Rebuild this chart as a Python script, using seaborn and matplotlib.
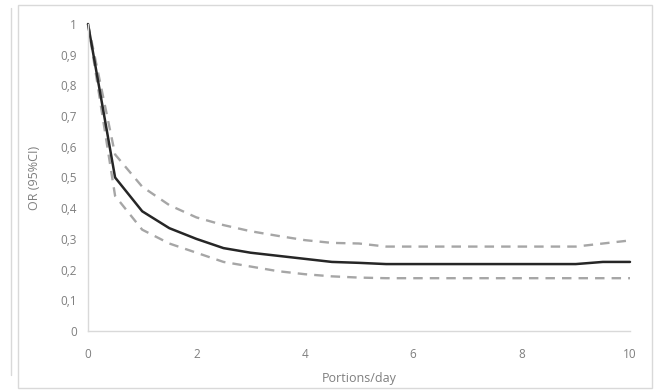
import numpy as np
import pandas as pd
import seaborn as sns
import matplotlib.pyplot as plt
from matplotlib.patches import Rectangle
from matplotlib.lines import Line2D

# data
portions = [0, 0.5, 1, 1.5, 2, 2.5, 3, 3.5, 4, 4.5, 5, 5.5, 6, 6.5, 7, 7.5, 8, 8.5, 9, 9.5, 10]
or_est = [1.0, 0.50, 0.39, 0.335, 0.30, 0.27, 0.255, 0.245, 0.235, 0.225, 0.222, 0.218, 0.218, 0.218,
          0.218, 0.218, 0.218, 0.218, 0.218, 0.225, 0.225]
ci_upper = [1.0, 0.575, 0.47, 0.41, 0.37, 0.345, 0.325, 0.31, 0.296, 0.287, 0.285, 0.275, 0.275, 0.275,
            0.275, 0.275, 0.275, 0.275, 0.275, 0.285, 0.295]
ci_lower = [1.0, 0.44, 0.33, 0.285, 0.255, 0.225, 0.21, 0.195, 0.185, 0.178, 0.174, 0.172, 0.172, 0.172,
            0.172, 0.172, 0.172, 0.172, 0.172, 0.172, 0.172]
y_ticks = [0, 0.1, 0.2, 0.3, 0.4, 0.5, 0.6, 0.7, 0.8, 0.9, 1.0]
y_labels = ["0", "0,1", "0,2", "0,3", "0,4", "0,5", "0,6", "0,7", "0,8", "0,9", "1"]
x_ticks = [0, 2, 4, 6, 8, 10]

df = pd.DataFrame({"Portions/day": portions, "OR": or_est, "upper": ci_upper, "lower": ci_lower})

sns.set_style("white")
plt.rcParams['font.family'] = ['Open Sans', 'DejaVu Sans']

fig = plt.figure(figsize=(6.58, 3.91), dpi=100)
ax = fig.add_axes([88 / 658, 1 - 331 / 391, 542 / 658, 307 / 391])

grey = "#a6a6a6"
for col in ["upper", "lower"]:
    sns.lineplot(data=df, x="Portions/day", y=col, ax=ax, color=grey, lw=1.7,
                 dashes=False, clip_on=False).lines[-1].set_dashes([4, 3])
sns.lineplot(data=df, x="Portions/day", y="OR", ax=ax, color="#262626", lw=1.8, clip_on=False)

ax.set_xlim(0, 10)
ax.set_ylim(0, 1)
ax.set_xticks(x_ticks)
ax.set_xticklabels([str(t) for t in x_ticks])
ax.set_yticks(y_ticks)
ax.set_yticklabels(y_labels)
ax.tick_params(colors="#7f7f7f", labelsize=8.5, length=0)
ax.tick_params(axis="x", pad=12)
ax.tick_params(axis="y", pad=8)
for s in ["top", "right"]:
    ax.spines[s].set_visible(False)
for s in ["left", "bottom"]:
    ax.spines[s].set_color("#d9d9d9")
    ax.spines[s].set_linewidth(1)

ax.set_xlabel("Portions/day", color="#7f7f7f", fontsize=9, labelpad=8)
ax.set_ylabel("OR (95%CI)", color="#7f7f7f", fontsize=9, labelpad=14)

# chart frame and neighbouring border
fig.add_artist(Rectangle((18 / 658, 3 / 391), 634 / 658, 383 / 391, transform=fig.transFigure,
                         fill=False, edgecolor="#d9d9d9", lw=1))
fig.add_artist(Line2D([11 / 658, 11 / 658], [1 - 375 / 391, 1 - 8 / 391], transform=fig.transFigure,
                      color="#d9d9d9", lw=1))

fig.savefig("out.png", dpi=100)
